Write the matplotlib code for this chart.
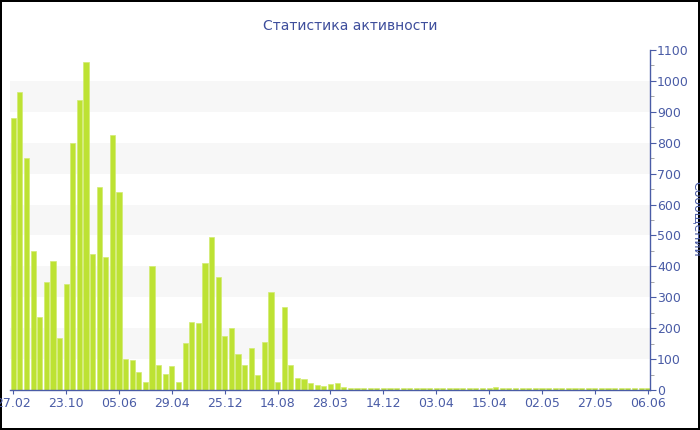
import numpy as np
from matplotlib import pyplot as plt
from matplotlib.ticker import MultipleLocator

title = "Статистика активности"
ylabel = "Сообщений"

messages = [879, 963, 752, 451, 237, 348, 418, 167, 343, 800,
            939, 1060, 439, 657, 429, 824, 642, 101, 98, 57,
            27, 400, 81, 53, 79, 25, 151, 220, 217, 410,
            496, 365, 174, 201, 117, 81, 135, 49, 155, 318,
            25, 269, 81, 40, 34, 23, 16, 14, 18, 22,
            9, 6, 6, 8, 6, 6, 5, 6, 6, 5,
            6, 7, 5, 8, 6, 5, 6, 7, 5, 6,
            5, 6, 7, 9, 5, 5, 5, 6, 5, 5,
            6, 5, 5, 5, 6, 5, 5, 5, 6, 5,
            5, 5, 5, 6, 5, 5, 6]

date_labels = ["27.02", "23.10", "05.06", "29.04", "25.12", "14.08", "28.03",
               "14.12", "03.04", "15.04", "02.05", "27.05", "06.06"]
label_step = 8

blue = '#4a5ca6'
bar_color = '#bde233'

fig = plt.figure(figsize=(7, 4.3), dpi=100)
fig.patch.set_edgecolor('black')
fig.patch.set_linewidth(1.5)
ax = fig.add_axes([10/700, 40/430, 640/700, 340/430])

# light bands
for lo in range(100, 1100, 200):
    ax.axhspan(lo, lo + 100, color='#f7f7f7', zorder=0, lw=0)

x = np.arange(len(messages))
ax.bar(x, messages, width=0.78, color=bar_color, edgecolor='#d2eb72', linewidth=0.5, zorder=2)

ax.set_xlim(-0.5, 96.35)
ax.set_ylim(0, 1100)

ax.set_xticks(x[::label_step])
ax.set_xticklabels(date_labels)
ax.yaxis.tick_right()
ax.yaxis.set_major_locator(MultipleLocator(100))
ax.yaxis.set_minor_locator(MultipleLocator(50))

for s in ['left', 'top']:
    ax.spines[s].set_visible(False)
for s in ['right', 'bottom']:
    ax.spines[s].set_color(blue)
    ax.spines[s].set_linewidth(1)

ax.tick_params(axis='x', colors=blue, labelsize=9, length=3, pad=2)
ax.tick_params(axis='y', which='major', colors=blue, labelsize=9, length=4, pad=1)
ax.tick_params(axis='y', which='minor', colors='#999999', length=3)

fig.text(0.5, 0.94, title, ha='center', va='center', color='#3e4e9c', fontsize=10)
fig.text(697/700, 0.491, ylabel, rotation=270, ha='center', va='center', color=blue, fontsize=9)

fig.savefig('out.png', dpi=100)
